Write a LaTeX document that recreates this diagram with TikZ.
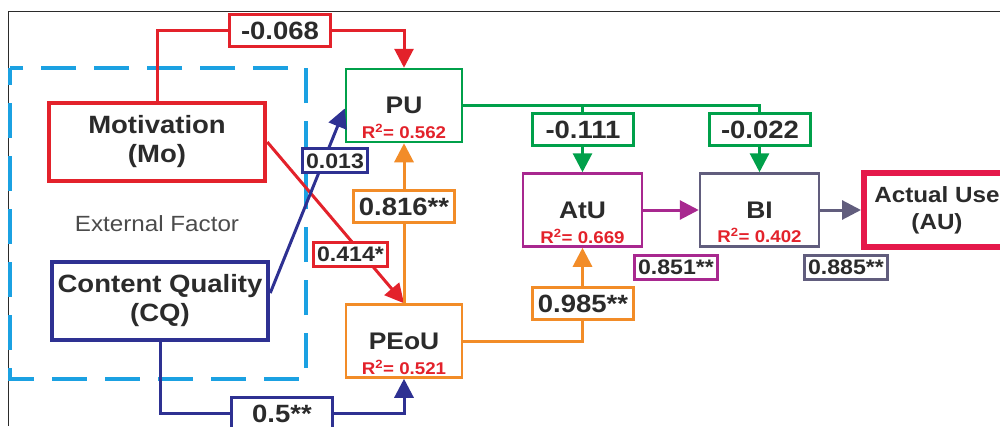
\documentclass[tikz,border=0pt]{standalone}
\usepackage{fontspec}
\setmainfont{Liberation Sans}[FakeStretch=1.1]
\usetikzlibrary{arrows.meta,calc}

\definecolor{cred}{HTML}{E3222B}
\definecolor{cgreen}{HTML}{00A04A}
\definecolor{corange}{HTML}{F28C28}
\definecolor{cnavy}{HTML}{2E3192}
\definecolor{cmag}{HTML}{A8288F}
\definecolor{cgrey}{HTML}{615D7D}
\definecolor{ccrim}{HTML}{E5194B}
\definecolor{ccyan}{HTML}{1BA1E2}
\definecolor{ctext}{HTML}{2B2B2B}

\begin{document}
\begin{tikzpicture}[x=1pt,y=-1pt,
  construct/.style={draw, fill=white, text=ctext, align=center, inner sep=0pt,
    font=\bfseries\fontsize{25}{29}\selectfont},
  outerbox/.style={construct, line width=4.5pt, minimum width=216pt, minimum height=78pt},
  innerbox/.style={construct, line width=2.5pt, minimum width=116pt, minimum height=73pt,
    font=\bfseries\fontsize{24}{28}\selectfont},
  rsq/.style={text=cred, inner sep=0pt, font=\bfseries\fontsize{17}{19}\selectfont},
  biglab/.style={draw, fill=white, text=ctext, line width=3pt, inner sep=0pt,
    minimum width=101pt, minimum height=32pt, text height=18pt, text depth=0pt,
    font=\bfseries\fontsize{25}{29}\selectfont},
  smalllab/.style={draw, fill=white, text=ctext, line width=3pt, inner xsep=4pt, inner ysep=0pt,
    minimum height=24pt, text height=15pt, text depth=0pt,
    font=\bfseries\fontsize{21}{25}\selectfont},
  conn/.style={line width=3pt, -{Triangle[length=19pt,width=19pt]}}
]
\useasboundingbox (0,0) rectangle (1000,426);

% outer frame
\draw[line width=1.2pt, ctext] (8.5,426) -- (8.5,11.5) -- (1000,11.5);

% external factor group
\draw[ccyan, line width=3.5pt, dash pattern=on 35pt off 18pt, dash phase=18pt]
  (10,68) rectangle (306,379);
\node[text=ctext!85, font=\fontsize{22}{26}\selectfont] (ext) at (157,224) {External Factor};

% constructs
\node[outerbox, draw=cred] (Mo) at (157,142) {Motivation\\(Mo)};
\node[outerbox, draw=cnavy] (CQ) at (160,301) {Content Quality\\(CQ)};
\node[innerbox, draw=cgreen] (PU) at (404,105.5) {PU};
\node[innerbox, draw=corange] (PEoU) at (404,341) {PEoU};
\node[innerbox, draw=cmag, minimum width=119pt] (AtU) at (582.5,210) {AtU};
\node[innerbox, draw=cgrey, minimum width=119pt] (BI) at (759.5,210) {BI};
\node[construct, draw=ccrim, line width=6pt, minimum width=146pt, minimum height=74pt,
  font=\bfseries\fontsize{22}{27}\selectfont] (AU) at (937,210) {Actual Use\\(AU)};

% explained variance
\node[rsq] (PUr) at ($(PU.south)+(0,-12)$) {R\textsuperscript{2}= 0.562};
\node[rsq] (PEoUr) at ($(PEoU.south)+(0,-11)$) {R\textsuperscript{2}= 0.521};
\node[rsq] (AtUr) at ($(AtU.south)+(0,-11.5)$) {R\textsuperscript{2}= 0.669};
\node[rsq] (BIr) at ($(BI.south)+(0,-12)$) {R\textsuperscript{2}= 0.402};

% path coefficient positions
\coordinate (c068) at (280,30.5);
\coordinate (c414) at (350.5,254);
\coordinate (c013) at (335,160.5);
\coordinate (c5) at (282,413);
\coordinate (c816) at (404,206.5);
\coordinate (c985) at (583,303.5);
\coordinate (c111) at (583,129);
\coordinate (c022) at (760,129);
\coordinate (c851) at (676,267);
\coordinate (c885) at (846,267);

% paths
\draw[conn, cred] (Mo.north) |- (c068) -| (PU.north);
\draw[conn, cred] (Mo.east) -- (PEoU.north);
\draw[conn, cnavy] ($(CQ.east)+(0,-8)$) -- ($(PU.west)+(0,3)$);
\draw[conn, cnavy] (CQ.south) |- (c5) -| (PEoU.south);
\draw[conn, corange] (PEoU.north) -- (PU.south);
\draw[conn, corange] (PEoU.east) -| (AtU.south);
\coordinate (split) at (PU.east -| AtU.north);
\draw[conn, cgreen] (PU.east) -| (BI.north);
\draw[conn, cgreen] (split) -- (AtU.north);
\draw[conn, cmag] (AtU.east) -- (BI.west);
\draw[conn, cgrey] (BI.east) -- (AU.west);

% coefficient labels
\node[biglab, draw=cred] (l068) at (c068) {-0.068};
\node[smalllab, draw=cred] (l414) at (c414) {0.414*};
\node[smalllab, draw=cnavy] (l013) at (c013) {0.013};
\node[biglab, draw=cnavy] (l5) at (c5) {0.5**};
\node[biglab, draw=corange] (l816) at (c816) {0.816**};
\node[biglab, draw=corange] (l985) at (c985) {0.985**};
\node[biglab, draw=cgreen] (l111) at (c111) {-0.111};
\node[biglab, draw=cgreen] (l022) at (c022) {-0.022};
\node[smalllab, draw=cmag] (l851) at (c851) {0.851**};
\node[smalllab, draw=cgrey] (l885) at (c885) {0.885**};
\end{tikzpicture}
\end{document}
